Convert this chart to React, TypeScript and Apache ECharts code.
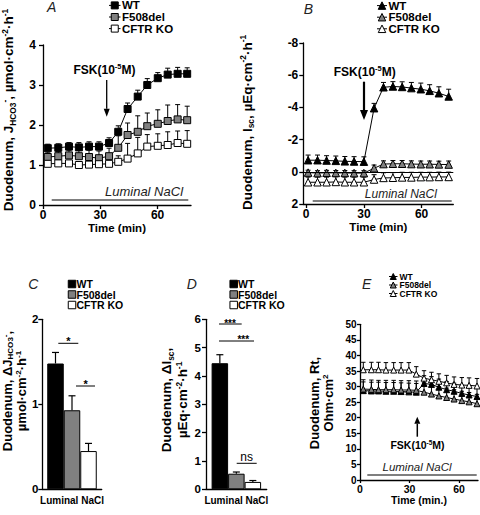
import React, { useEffect, useRef } from "react";
import * as echarts from "echarts";

const FONT = "'Liberation Sans', Arial, Helvetica, sans-serif";

const groupNames = ["WT", "F508del", "CFTR KO"];
const groupFills = ["#000000", "#808080", "#ffffff"];

// Panel A: J_HCO3- time course (µmol·cm-2·h-1)
const timeA = [2.5, 8, 13.6, 18.8, 24.1, 29.3, 34.6, 39.4, 44.3, 49.6, 54.6, 60.1, 65.3, 70.5, 75.5];
const wtA = [1.42, 1.43, 1.46, 1.44, 1.46, 1.46, 1.55, 1.83, 2.4, 2.71, 3.0, 3.17, 3.26, 3.28, 3.28];
const wtAErr = [0.1, 0.1, 0.1, 0.12, 0.12, 0.12, 0.13, 0.15, 0.15, 0.16, 0.16, 0.14, 0.16, 0.16, 0.15];
const f508A = [1.2, 1.22, 1.24, 1.22, 1.2, 1.17, 1.22, 1.43, 1.75, 1.83, 1.97, 2.03, 2.1, 2.14, 2.12];
const f508AErr = [0.12, 0.12, 0.13, 0.15, 0.17, 0.18, 0.2, 0.3, 0.3, 0.4, 0.33, 0.35, 0.4, 0.37, 0.35];
const koA = [1.03, 1.04, 1.04, 1.0, 1.01, 1.02, 1.03, 1.08, 1.16, 1.29, 1.46, 1.48, 1.5, 1.55, 1.53];
const koAErr = [0.06, 0.06, 0.06, 0.06, 0.06, 0.06, 0.07, 0.15, 0.38, 0.4, 0.3, 0.3, 0.33, 0.3, 0.33];
const xTicksA = [0, 30, 60];

// Panel B: Isc time course (µEq·cm-2·h-1), inverted axis
const timeB = [1, 5.9, 10.6, 15.4, 20.1, 24.9, 30, 35.3, 40.2, 45.1, 49.9, 54.7, 59.6, 64.2, 69, 74.1];
const wtB = [-0.72, -0.72, -0.7, -0.68, -0.65, -0.64, -0.63, -3.95, -5.25, -5.3, -5.27, -5.2, -5.13, -5.03, -4.88, -4.68];
const wtBErr = [0.32, 0.32, 0.3, 0.3, 0.3, 0.3, 0.3, 0.3, 0.3, 0.3, 0.32, 0.35, 0.38, 0.38, 0.4, 0.45];
const f508B = [0.05, 0.08, 0.06, 0.07, 0.07, 0.08, 0.08, -0.22, -0.48, -0.5, -0.5, -0.48, -0.47, -0.47, -0.46, -0.45];
const f508BErr = [0.15, 0.15, 0.15, 0.15, 0.15, 0.15, 0.15, 0.2, 0.2, 0.2, 0.2, 0.2, 0.2, 0.2, 0.2, 0.22];
const koB = [0.65, 0.65, 0.65, 0.63, 0.65, 0.65, 0.65, 0.48, 0.38, 0.37, 0.35, 0.35, 0.33, 0.33, 0.32, 0.32];
const koBErr = [0.32, 0.32, 0.32, 0.32, 0.32, 0.32, 0.32, 0.3, 0.32, 0.32, 0.32, 0.32, 0.3, 0.3, 0.3, 0.3];
const xTicksB = [0, 30, 60];

// Panel C: delta J_HCO3-
const barC = [1.48, 0.93, 0.45];
const barCErr = [0.13, 0.17, 0.09];
// Panel D: delta Isc
const barD = [4.45, 0.55, 0.26];
const barDErr = [0.3, 0.06, 0.05];
const barCategory = ["Luminal NaCl"];

// Panel E: Rt time course (Ohm·cm2)
const timeE = [2, 6.9, 11.2, 15.7, 20.4, 24.9, 29.6, 34.1, 38.8, 43.3, 47.8, 52.5, 57, 61.7, 66.1, 70.9];
const wtE = [28.7, 28.6, 28.6, 28.5, 28.5, 28.4, 28.3, 28.2, 31.0, 30.7, 29.8, 29.0, 28.5, 27.8, 27.3, 26.8];
const wtEErr = [2.8, 2.8, 2.8, 2.8, 2.8, 2.8, 2.8, 2.8, 2.5, 2.5, 2.6, 2.6, 2.6, 2.6, 2.6, 2.6];
const f508E = [29.2, 29.1, 29.0, 29.0, 29.0, 28.9, 28.9, 28.8, 28.2, 27.6, 27.0, 26.5, 26.0, 25.5, 25.1, 24.5];
const f508EErr = [3.0, 3.0, 3.0, 3.0, 3.0, 3.0, 3.0, 3.0, 3.0, 3.0, 3.0, 3.0, 3.0, 3.0, 3.0, 3.0];
const koE = [35.4, 35.4, 35.4, 35.3, 35.3, 35.3, 35.3, 34.0, 32.7, 32.2, 31.7, 31.2, 30.7, 30.5, 30.4, 30.2];
const koEErr = [2.4, 2.4, 2.4, 2.4, 2.4, 2.4, 2.4, 2.4, 2.4, 2.4, 2.4, 2.4, 2.4, 2.4, 2.4, 2.4];
const xTicksE = [0, 30, 60];

const BAR_W = 16.5;

function vAxis(gridIndex: number, o: any) {
  return {
    type: "value",
    gridIndex,
    min: o.min,
    max: o.max,
    interval: o.interval,
    inverse: !!o.inverse,
    position: o.position,
    splitLine: { show: false },
    axisLine: { show: true, onZero: false, lineStyle: { color: "#000", width: 1.3 } },
    axisTick: { show: true, length: o.tick ?? 4, lineStyle: { color: "#000", width: 1.3 }, customValues: o.custom },
    axisLabel: { color: "#000", fontWeight: "bold", fontFamily: FONT, fontSize: o.fs, margin: o.margin, customValues: o.custom },
    name: o.name,
    nameLocation: "middle",
    nameGap: o.nameGap,
    nameTextStyle: { color: "#000", fontWeight: "bold", fontFamily: FONT, fontSize: o.nameFs },
  };
}

function cAxis(gridIndex: number) {
  return {
    type: "category",
    gridIndex,
    data: barCategory,
    axisLine: { show: true, onZero: false, lineStyle: { color: "#000", width: 1.3 } },
    axisTick: { show: false },
    axisLabel: { color: "#000", fontWeight: "bold", fontFamily: FONT, fontSize: 10, margin: 6 },
  };
}

function lineSeries(name: string, idx: number, times: number[], vals: number[], symbol: string, fill: string, size: number, extra: any = {}) {
  return {
    name,
    type: "line",
    xAxisIndex: idx,
    yAxisIndex: idx,
    data: times.map((t, i) => [t, vals[i]]),
    symbol,
    symbolSize: size,
    showSymbol: true,
    lineStyle: { color: "#000", width: 1 },
    itemStyle: { color: fill, borderColor: "#000", borderWidth: 1 },
    z: 4,
    silent: true,
    ...extra,
  };
}

function errSeries(idx: number, times: number[], vals: number[], errs: number[], dir: number, half: number) {
  return {
    type: "custom",
    xAxisIndex: idx,
    yAxisIndex: idx,
    data: times.map((t, i) => [t, vals[i], vals[i] + dir * errs[i]]),
    z: 3,
    silent: true,
    renderItem: (_p: any, api: any) => {
      const a = api.coord([api.value(0), api.value(1)]);
      const b = api.coord([api.value(0), api.value(2)]);
      return {
        type: "group",
        children: [
          { type: "line", shape: { x1: a[0], y1: a[1], x2: b[0], y2: b[1] }, style: { stroke: "#000", lineWidth: 1 } },
          { type: "line", shape: { x1: b[0] - half, y1: b[1], x2: b[0] + half, y2: b[1] }, style: { stroke: "#000", lineWidth: 1 } },
        ],
      };
    },
  };
}

function barSeries(name: string, idx: number, val: number, fill: string) {
  return {
    name,
    type: "bar",
    xAxisIndex: idx,
    yAxisIndex: idx,
    data: [val],
    barWidth: BAR_W,
    barGap: "0%",
    itemStyle: { color: fill, borderColor: "#000", borderWidth: 1 },
    z: 2,
    silent: true,
  };
}

function barErrSeries(idx: number, val: number, err: number, slot: number) {
  return {
    type: "custom",
    xAxisIndex: idx,
    yAxisIndex: idx,
    data: [[0, val, val + err]],
    z: 3,
    silent: true,
    renderItem: (_p: any, api: any) => {
      const a = api.coord([api.value(0), api.value(1)]);
      const b = api.coord([api.value(0), api.value(2)]);
      const x = a[0] + (slot - 1) * BAR_W;
      return {
        type: "group",
        children: [
          { type: "line", shape: { x1: x, y1: a[1], x2: x, y2: b[1] }, style: { stroke: "#000", lineWidth: 1.2 } },
          { type: "line", shape: { x1: x - 3.5, y1: b[1], x2: x + 3.5, y2: b[1] }, style: { stroke: "#000", lineWidth: 1.2 } },
        ],
      };
    },
  };
}

function richFor(size: number, lh: number) {
  const s = size * 0.62;
  return {
    m: { fontSize: size, fontWeight: "bold", fontFamily: FONT, lineHeight: lh, fill: "#000" },
    sub: { fontSize: s, fontWeight: "bold", fontFamily: FONT, lineHeight: s * 0.5, verticalAlign: "bottom", fill: "#000" },
    sup: { fontSize: s, fontWeight: "bold", fontFamily: FONT, lineHeight: s * 0.5, verticalAlign: "top", fill: "#000" },
  };
}

function richText(x: number, y: number, text: string, size: number, lh: number, rotate = false) {
  return {
    type: "text",
    x,
    y,
    rotation: rotate ? Math.PI / 2 : 0,
    silent: true,
    style: { text, rich: richFor(size, lh), align: "center", verticalAlign: "middle", fill: "#000" },
  };
}

function plainText(x: number, y: number, text: string, size: number, opt: any = {}) {
  return {
    type: "text",
    x,
    y,
    silent: true,
    style: {
      text,
      fontSize: size,
      fontFamily: FONT,
      fontWeight: opt.weight ?? "bold",
      fontStyle: opt.italic ? "italic" : "normal",
      fill: opt.fill ?? "#000",
      align: opt.align ?? "center",
      verticalAlign: "middle",
      lineHeight: opt.lh,
    },
  };
}

function hline(x1: number, x2: number, y: number, w = 1.2) {
  return { type: "line", silent: true, shape: { x1, y1: y, x2, y2: y }, style: { stroke: "#000", lineWidth: w } };
}

function marker(kind: string, cx: number, cy: number, s: number, fill: string) {
  if (kind === "rect") {
    return { type: "rect", silent: true, shape: { x: cx - s / 2, y: cy - s / 2, width: s, height: s }, style: { fill, stroke: "#000", lineWidth: 1 } };
  }
  return {
    type: "polygon",
    silent: true,
    shape: { points: [[cx, cy - s / 2], [cx + s / 2, cy + s / 2], [cx - s / 2, cy + s / 2]] },
    style: { fill, stroke: "#000", lineWidth: 1 },
  };
}

function legend(rows: number[], lx1: number, lx2: number, kind: string, s: number, tx: number, fs: number, withLine: boolean) {
  const out: any[] = [];
  rows.forEach((y, i) => {
    const cx = (lx1 + lx2) / 2;
    if (withLine) out.push(hline(lx1, lx2, y, 1));
    out.push(marker(kind, cx, y, s, groupFills[i]));
    out.push(plainText(tx, y, groupNames[i], fs, { align: "left", lh: fs }));
  });
  return out;
}

function arrow(x: number, yTail: number, yTip: number, w: number, hw: number, hl: number) {
  const dir = yTip > yTail ? 1 : -1;
  const base = yTip - dir * hl;
  return [
    { type: "line", silent: true, shape: { x1: x, y1: yTail, x2: x, y2: base }, style: { stroke: "#000", lineWidth: w } },
    { type: "polygon", silent: true, shape: { points: [[x, yTip], [x - hw, base], [x + hw, base]] }, style: { fill: "#000" } },
  ];
}

function buildOption() {
  const graphic: any[] = [
    // panel letters
    plainText(51.7, 7, "A", 14, { weight: "normal", italic: true, fill: "#222" }),
    plainText(308.3, 8.5, "B", 14, { weight: "normal", italic: true, fill: "#222" }),
    plainText(33.3, 284, "C", 14, { weight: "normal", italic: true, fill: "#222" }),
    plainText(191.7, 284, "D", 14, { weight: "normal", italic: true, fill: "#222" }),
    plainText(366.7, 284, "E", 14, { weight: "normal", italic: true, fill: "#222" }),
    // legends
    ...legend([5.4, 17, 28.6], 109, 120.5, "rect", 7, 122, 11.5, true),
    ...legend([5.6, 17.2, 28.8], 377, 387, "tri", 7.5, 388.5, 11.5, true),
    ...legend([284, 294.5, 305], 68.2, 75.8, "rect", 7.5, 76.5, 10.5, false),
    ...legend([284, 294.5, 305], 229.9, 237.5, "rect", 7.5, 238, 10.5, false),
    ...legend([276.5, 285, 293.5], 389, 397.5, "tri", 6, 399.5, 8.5, true),
    // y axis names
    richText(8.5, 110, "{m|Duodenum, J}{sub|HCO3}{sup|-}{m|, µmol·cm}{sup|-2}{m|·h}{sup|-1}", 13.5, 16, true),
    richText(247, 122.5, "{m|Duodenum, I}{sub|sc}{m|, µEq·cm}{sup|-2}{m|·h}{sup|-1}", 13.5, 16, true),
    richText(14.5, 391, "{m|Duodenum, ΔJ}{sub|HCO3}{sup|-}{m|,}\n{m|µmol·cm}{sup|-2}{m|·h}{sup|-1}", 13, 13.5, true),
    richText(174.7, 400, "{m|Duodenum, ΔI}{sub|sc}{m|,}\n{m|µEq·cm}{sup|-2}{m|·h}{sup|-1}", 13.5, 16, true),
    richText(321.7, 403, "{m|Duodenum, Rt,}\n{m|Ohm·cm}{sup|2}", 13, 13.5, true),
    // FSK annotations
    richText(104.5, 70, "{m|FSK(10}{sup|-5}{m|M)}", 12, 14),
    ...arrow(106.7, 80, 116.7, 1.3, 3, 8),
    richText(364.7, 71.7, "{m|FSK(10}{sup|-5}{m|M)}", 12, 14),
    ...arrow(364, 81.7, 120, 2.2, 4, 10),
    richText(417.5, 445, "{m|FSK(10}{sup|-5}{m|M)}", 10.5, 12),
    ...arrow(417.3, 436.7, 416.7, 1.5, 3, 7),
    // Luminal NaCl bars
    plainText(144, 191.7, "Luminal NaCl", 13, { weight: "normal", italic: true, fill: "#222" }),
    hline(51.7, 188.3, 200, 1.2),
    plainText(400.8, 194, "Luminal NaCl", 12, { weight: "normal", italic: true, fill: "#222" }),
    hline(312.7, 451.7, 201, 1.2),
    plainText(417, 466.7, "Luminal NaCl", 11.5, { weight: "normal", italic: true, fill: "#222" }),
    hline(367.3, 476.7, 475, 1.2),
    // significance marks
    hline(58.3, 78.3, 343.3, 1),
    plainText(68.3, 341, "*", 11),
    hline(76, 95, 386, 1),
    plainText(85.7, 383.5, "*", 11),
    hline(219, 241.7, 324, 1),
    plainText(230, 323.5, "***", 10),
    hline(219, 254, 341, 1),
    plainText(243.3, 339.2, "***", 10),
    hline(236.7, 256.7, 463.3, 1),
    plainText(246.7, 456.7, "ns", 12, { weight: "normal" }),
  ];

  return {
    animation: false,
    backgroundColor: "#fff",
    textStyle: { fontFamily: FONT },
    grid: [
      { left: 43, top: 45, width: 148, height: 160 },
      { left: 303.3, top: 43, width: 150, height: 161 },
      { left: 42.3, top: 319.3, width: 59.4, height: 170 },
      { left: 206, top: 319.3, width: 60.7, height: 170 },
      { left: 360, top: 324.3, width: 118, height: 155.7 },
    ],
    xAxis: [
      vAxis(0, { min: 0, max: 77.5, custom: xTicksA, fs: 12, margin: 4, name: "Time (min)", nameGap: 16, nameFs: 11.5 }),
      vAxis(1, { min: -1.5, max: 76.5, custom: xTicksB, fs: 12, margin: 4, name: "Time (min)", nameGap: 13, nameFs: 11.5, position: "bottom" }),
      cAxis(2),
      cAxis(3),
      vAxis(4, { min: 0, max: 71.5, custom: xTicksE, fs: 10.5, margin: 3, tick: 3, name: "Time (min.)", nameGap: 14, nameFs: 10.5 }),
    ],
    yAxis: [
      vAxis(0, { min: 0, max: 4, interval: 1, fs: 12, margin: 7 }),
      vAxis(1, { min: -8, max: 2, interval: 2, inverse: true, fs: 12, margin: 5 }),
      vAxis(2, { min: 0, max: 2, interval: 1, fs: 11.5, margin: 4 }),
      vAxis(3, { min: 0, max: 6, interval: 1, fs: 11.5, margin: 5 }),
      vAxis(4, { min: 0, max: 50, interval: 5, fs: 10, margin: 3.5, tick: 3 }),
    ],
    series: [
      // A
      errSeries(0, timeA, wtA, wtAErr, 1, 2.5),
      errSeries(0, timeA, f508A, f508AErr, 1, 2.5),
      errSeries(0, timeA, koA, koAErr, 1, 2.5),
      lineSeries("WT", 0, timeA, wtA, "rect", groupFills[0], 7),
      lineSeries("F508del", 0, timeA, f508A, "rect", groupFills[1], 7),
      lineSeries("CFTR KO", 0, timeA, koA, "rect", groupFills[2], 7),
      // B
      errSeries(1, timeB, wtB, wtBErr, -1, 2.5),
      errSeries(1, timeB, f508B, f508BErr, -1, 2.5),
      errSeries(1, timeB, koB, koBErr, -1, 2.5),
      lineSeries("WT", 1, timeB, wtB, "triangle", groupFills[0], 7.5, {
        markLine: {
          silent: true,
          symbol: "none",
          label: { show: false },
          lineStyle: { color: "#000", width: 1, type: "solid" },
          data: [{ yAxis: 0 }],
        },
      }),
      lineSeries("F508del", 1, timeB, f508B, "triangle", groupFills[1], 7.5),
      lineSeries("CFTR KO", 1, timeB, koB, "triangle", groupFills[2], 7.5),
      // C
      barSeries("WT", 2, barC[0], groupFills[0]),
      barSeries("F508del", 2, barC[1], groupFills[1]),
      barSeries("CFTR KO", 2, barC[2], groupFills[2]),
      barErrSeries(2, barC[0], barCErr[0], 0),
      barErrSeries(2, barC[1], barCErr[1], 1),
      barErrSeries(2, barC[2], barCErr[2], 2),
      // D
      barSeries("WT", 3, barD[0], groupFills[0]),
      barSeries("F508del", 3, barD[1], groupFills[1]),
      barSeries("CFTR KO", 3, barD[2], groupFills[2]),
      barErrSeries(3, barD[0], barDErr[0], 0),
      barErrSeries(3, barD[1], barDErr[1], 1),
      barErrSeries(3, barD[2], barDErr[2], 2),
      // E
      errSeries(4, timeE, wtE, wtEErr, 1, 2.2),
      errSeries(4, timeE, f508E, f508EErr, 1, 2.2),
      errSeries(4, timeE, koE, koEErr, 1, 2.2),
      lineSeries("WT", 4, timeE, wtE, "triangle", groupFills[0], 6),
      lineSeries("F508del", 4, timeE, f508E, "triangle", groupFills[1], 6),
      lineSeries("CFTR KO", 4, timeE, koE, "triangle", groupFills[2], 6),
    ],
    graphic,
  };
}

export default function App() {
  const ref = useRef<HTMLDivElement>(null);
  useEffect(() => {
    if (!ref.current) return;
    const chart = echarts.init(ref.current, null, { renderer: "svg" });
    chart.setOption(buildOption() as any);
    return () => chart.dispose();
  }, []);
  return <div ref={ref} style={{ position: "absolute", left: 0, top: 0, width: 480, height: 515 }} />;
}
